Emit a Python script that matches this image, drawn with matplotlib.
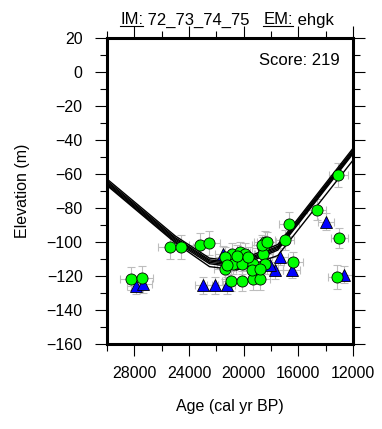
import numpy as np
import matplotlib
matplotlib.use("Agg")
import matplotlib.pyplot as plt
from matplotlib.lines import Line2D

plt.rcParams['font.family'] = ['Liberation Sans', 'DejaVu Sans']

# sea-level indicators (green circles)
circ_age = [28250, 27460, 25390, 24590, 23200, 22520, 20900, 20100, 19300, 18800,
            21370, 18440, 18560, 16680, 16370, 14660, 13000, 13080, 13200, 16980,
            20880, 20270, 19900, 20760, 20150, 19300, 18560, 18680, 18440, 19410,
            18800, 21370, 18320, 21240, 20500, 19700]
circ_elev = [-121.5, -121, -103, -103, -101.5, -100.4, -123, -123, -122, -122,
             -115.6, -99.8, -103.3, -89.6, -111.8, -81, -97.8, -60.8, -120.6, -99,
             -106.8, -105.9, -106.8, -112.7, -112.7, -112.7, -106.8, -102, -112.7, -116.6,
             -115.6, -108.8, -100, -113.7, -108, -109]
circ_xerr = [800, 800, 900, 900, 800, 800, 700, 700, 700, 700,
             800, 800, 800, 700, 700, 700, 600, 700, 600, 700,
             700, 700, 700, 700, 700, 700, 700, 700, 700, 700,
             700, 700, 700, 700, 700, 700]
circ_yerr = [7, 7, 7, 7, 7, 7, 6, 6, 6, 6,
             6, 6, 6, 7, 6, 6, 6, 7, 7, 6,
             6, 6, 6, 6, 6, 6, 6, 6, 6, 6,
             6, 6, 6, 6, 6, 6]

# limiting indicators (blue triangles)
tri_age = [27900, 27340, 22950, 22100, 21240, 21530, 17710, 16490, 17340, 13980, 12660, 18070]
tri_elev = [-125.6, -124.9, -125.5, -125.5, -125.5, -107.2, -116.6, -116.2, -108.8, -88.2, -119.2, -113.7]

# model curves
curve_age = [30000, 25000, 22500, 20500, 17500, 12000]
curves = [
    [-63.0, -96.5, -109.5, -111.5, -101.5, -45.0],
    [-64.0, -97.5, -110.5, -112.5, -102.5, -46.0],
    [-64.8, -98.2, -111.2, -113.2, -103.2, -46.8],
    [-65.5, -99.0, -112.0, -114.0, -104.0, -47.5],
    [-66.2, -99.8, -112.8, -114.8, -104.8, -48.2],
    [-66.8, -100.5, -114.5, -116.5, -108.0, -52.0],
]

fs = 11.5

fig = plt.figure(figsize=(3.82, 4.29), dpi=100)
ax = fig.add_axes([0.280, 0.198, 0.644, 0.714])

for c in curves:
    ax.plot(curve_age, c, color='black', lw=1.0, zorder=3, solid_joinstyle='miter')

ax.errorbar(circ_age, circ_elev, xerr=circ_xerr, yerr=circ_yerr, fmt='none',
            ecolor='#bdbdbd', elinewidth=0.8, capsize=3, capthick=0.8, zorder=2)
ax.errorbar(tri_age, tri_elev, xerr=600, yerr=5, fmt='none',
            ecolor='#bdbdbd', elinewidth=0.8, capsize=3, capthick=0.8, zorder=2)
ax.plot(tri_age, tri_elev, '^', ms=8.5, mfc='#0000ff', mec='black', mew=0.6, ls='none', zorder=4)
ax.plot(circ_age, circ_elev, 'o', ms=8, mfc='#00ff00', mec='black', mew=0.6, ls='none', zorder=5)

ax.set_xlim(30000, 12000)
ax.set_ylim(-160, 20)
ax.set_xticks([28000, 24000, 20000, 16000, 12000])
ax.set_xticks(np.arange(30000, 11999, -2000), minor=True)
ax.set_yticks(np.arange(-160, 21, 20))
ax.set_yticks(np.arange(-160, 21, 10), minor=True)
ax.set_yticklabels([str(v).replace('-', '\u2212') for v in range(-160, 21, 20)])
ax.tick_params(which='both', direction='out', top=True, right=True, width=0.8, labelsize=fs)
ax.tick_params(which='major', length=8.5, pad=7)
ax.tick_params(axis='y', which='major', pad=9)
ax.tick_params(which='minor', length=5)
for s in ax.spines.values():
    s.set_linewidth(2.2)

ax.set_xlabel('Age (cal yr BP)', fontsize=fs, labelpad=13)
ax.set_ylabel('Elevation (m)', fontsize=fs, labelpad=12)
ax.text(0.945, 0.925, 'Score: 219', transform=ax.transAxes, ha='right', va='center', fontsize=12)

# title with underlined keys
fig.canvas.draw()
r = fig.canvas.get_renderer()
parts = [('IM:', True), (' 72_73_74_75', False), ('   ', False), ('EM:', True), (' ehgk', False)]
x = 120 / 382
y = 1 - 20 / 429
for txt, ul in parts:
    t = fig.text(x, y, txt, fontsize=12, ha='left', va='center')
    bb = t.get_window_extent(r).transformed(fig.transFigure.inverted())
    if ul:
        yl = bb.y0 + 0.004
        fig.add_artist(Line2D([bb.x0, bb.x1], [yl, yl], transform=fig.transFigure, color='black', lw=0.8))
    x = bb.x1

fig.savefig('out.png', dpi=100)
